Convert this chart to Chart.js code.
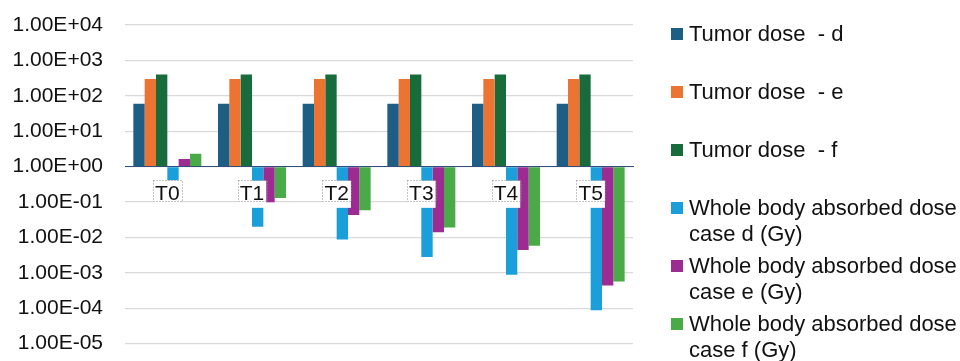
<!DOCTYPE html>
<html>
<head>
<meta charset="utf-8">
<script src="https://cdn.jsdelivr.net/npm/chart.js@4/dist/chart.umd.min.js"></script>
<style>
  html, body { margin: 0; padding: 0; background: #fff; }
  #wrap { position: relative; width: 960px; height: 361px; overflow: hidden; }
  #legend { position: absolute; left: 0; top: 0; width: 960px; height: 361px; pointer-events: none;
            font-family: "Liberation Sans", Arial, sans-serif; font-size: 22px; color: #111; }
  .li { position: absolute; left: 689px; line-height: 26px; white-space: pre; }
  .sw { position: absolute; width: 12px; height: 12px; }
</style>
</head>
<body>
<div id="wrap">
  <canvas id="c" width="960" height="361"></canvas>
  <div id="legend"></div>
</div>
<script>
const categories = ['T0', 'T1', 'T2', 'T3', 'T4', 'T5'];
const tumorDoseD = [60, 60, 60, 60, 60, 60];
const tumorDoseE = [300, 300, 300, 300, 300, 300];
const tumorDoseF = [400, 400, 400, 400, 400, 400];
const wholeBodyD = [0.41, 0.02, 0.0088, 0.0028, 0.00088, 0.000088];
const wholeBodyE = [1.65, 0.098, 0.043, 0.014, 0.0044, 0.00044];
const wholeBodyF = [2.3, 0.13, 0.059, 0.019, 0.0058, 0.00057];
const yTickValues = [1e-5, 1e-4, 1e-3, 1e-2, 1e-1, 1e0, 1e1, 1e2, 1e3, 1e4];

const seriesLabels = [
  ['Tumor dose  - d'],
  ['Tumor dose  - e'],
  ['Tumor dose  - f'],
  ['Whole body absorbed dose', 'case d (Gy)'],
  ['Whole body absorbed dose', 'case e (Gy)'],
  ['Whole body absorbed dose', 'case f (Gy)']
];
const seriesColors = ['#1F5E84', '#EC7433', '#186B3A', '#1A9FDA', '#9C2C92', '#4BAA48'];
const seriesData = [tumorDoseD, tumorDoseE, tumorDoseF, wholeBodyD, wholeBodyE, wholeBodyF];

function fmtSci(v) {
  const s = Number(v).toExponential(2).toUpperCase();
  const m = s.match(/^([0-9.]+)E([+-])(\d+)$/);
  if (!m) return s;
  return m[1] + 'E' + m[2] + m[3].padStart(2, '0');
}

const FONT = '"Liberation Sans", Arial, sans-serif';

const labelBoxPlugin = {
  id: 'labelBox',
  afterDraw(chart) {
    const xs = chart.scales.x;
    const ys = chart.scales.y;
    const ctx = chart.ctx;
    ctx.save();
    ctx.font = '21px ' + FONT;
    const yAxis = ys.getPixelForValue(1);
    xs.ticks.forEach((t, i) => {
      const cx = xs.getPixelForTick(i);
      const w = ctx.measureText(xs.getLabelForValue(t.value)).width + 4;
      const top = yAxis + 13.5;
      const h = 21;
      ctx.strokeStyle = '#8a8a8a';
      ctx.lineWidth = 1;
      ctx.setLineDash([1, 2]);
      ctx.strokeRect(Math.round(cx - w / 2) + 0.5, Math.round(top) + 0.5, Math.round(w), h);
    });
    ctx.restore();
  }
};

const chart = new Chart(document.getElementById('c'), {
  type: 'bar',
  data: {
    labels: categories,
    datasets: seriesData.map((d, i) => ({
      label: seriesLabels[i].join(' '),
      data: d,
      backgroundColor: seriesColors[i],
      borderWidth: 0,
      base: 1,
      categoryPercentage: 0.803,
      barPercentage: 1
    }))
  },
  options: {
    responsive: false,
    devicePixelRatio: 1,
    animation: false,
    layout: { padding: { left: 10, right: 327, top: 25, bottom: 17.3 } },
    plugins: { legend: { display: false }, tooltip: { enabled: false } },
    scales: {
      y: {
        type: 'logarithmic',
        min: 1e-5,
        max: 1e4,
        afterBuildTicks(scale) {
          scale.ticks = yTickValues.map(v => ({ value: v }));
        },
        afterFit(scale) {
          scale.width = 115;
          scale.paddingTop = 0;
          scale.paddingBottom = 0;
        },
        grid: { color: '#d9d9d9', lineWidth: 1.2, drawTicks: false },
        border: { display: false },
        ticks: {
          callback: (v) => fmtSci(v),
          font: { family: FONT, size: 21 },
          color: '#111',
          padding: 22,
          autoSkip: false
        }
      },
      x: {
        type: 'category',
        position: { y: 1 },
        grid: { display: false, drawTicks: false },
        border: { display: true, color: '#2F4E7C', width: 1, dash: [3, 2], z: 1 },
        ticks: {
          z: 1,
          font: { family: FONT, size: 21 },
          color: '#111',
          padding: 15,
          showLabelBackdrop: true,
          backdropColor: '#ffffff',
          backdropPadding: { left: 2, right: 2, top: 1, bottom: 1 }
        }
      }
    }
  },
  plugins: [labelBoxPlugin]
});

// HTML legend built from the series arrays
const legend = document.getElementById('legend');
seriesLabels.forEach((lines, i) => {
  const center = 34.3 + 58 * i;
  const sw = document.createElement('div');
  sw.className = 'sw';
  sw.style.left = '671px';
  sw.style.top = (center - 6) + 'px';
  sw.style.background = seriesColors[i];
  legend.appendChild(sw);
  const li = document.createElement('div');
  li.className = 'li';
  li.style.top = (center - 13) + 'px';
  li.textContent = lines.join('\n');
  legend.appendChild(li);
});
</script>
</body>
</html>
